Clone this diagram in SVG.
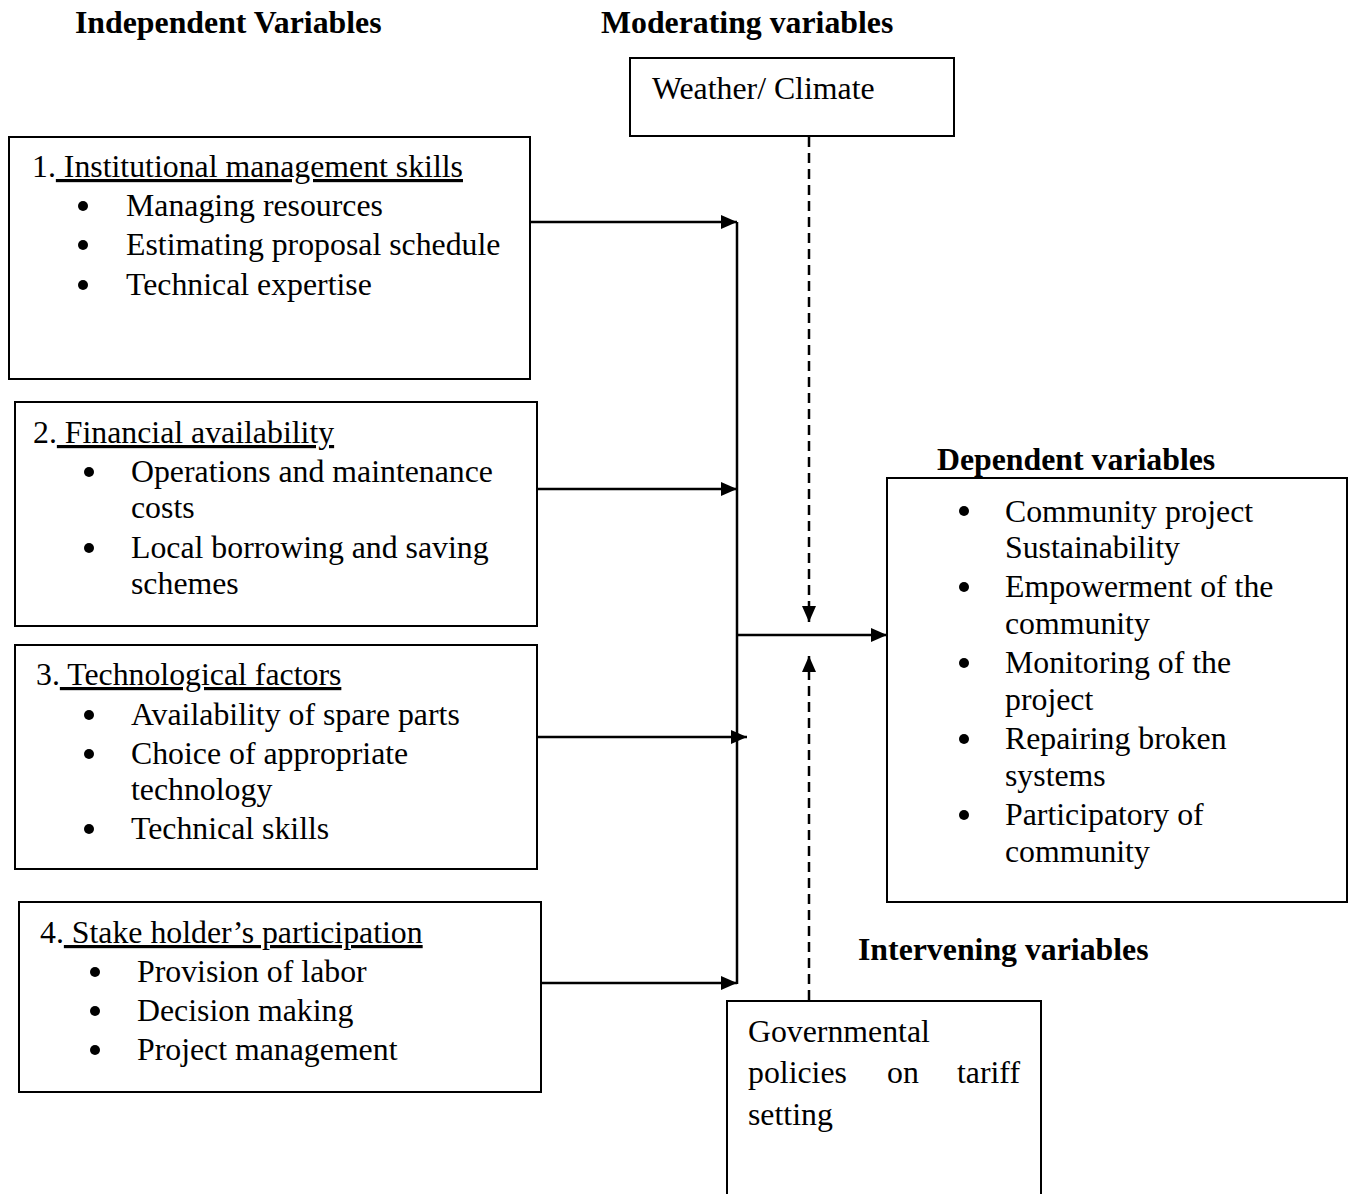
<svg xmlns="http://www.w3.org/2000/svg" width="1351" height="1194" viewBox="0 0 1351 1194">
<style>
text{font-family:"Liberation Serif","Times New Roman",serif;font-size:31.8px;fill:#000}
.h{font-weight:bold}
.box{fill:#fff;stroke:#000;stroke-width:2}
.c{stroke:#000;stroke-width:2.5;fill:none}
.d{stroke:#000;stroke-width:2.5;fill:none;stroke-dasharray:10 6}
.u{text-decoration:underline}
</style>
<defs>
<marker id="ah" markerUnits="userSpaceOnUse" markerWidth="17" markerHeight="15" refX="16" refY="7" orient="auto">
<path d="M0,0 L16,7 L0,14 z" fill="#000"/>
</marker>
</defs>
<rect width="1351" height="1194" fill="#fff"/>
<text class="h" x="75" y="33">Independent Variables</text>
<text class="h" x="601" y="33">Moderating variables</text>
<text class="h" x="937" y="470">Dependent variables</text>
<text class="h" x="858" y="960">Intervening variables</text>

<g id="weather">
<rect class="box" x="630" y="58" width="324" height="78"/>
<text x="652" y="99">Weather/ Climate</text>
</g>

<g id="box1">
<rect class="box" x="9" y="137" width="521" height="242"/>
<text x="32" y="177">1.<tspan class="u"> Institutional management skills</tspan></text>
<g fill="#000"><circle cx="83" cy="206" r="5"/><circle cx="83" cy="245" r="5"/><circle cx="83" cy="285" r="5"/></g>
<text x="126" y="216">Managing resources</text>
<text x="126" y="255">Estimating proposal schedule</text>
<text x="126" y="295">Technical expertise</text>
</g>

<g id="box2">
<rect class="box" x="15" y="402" width="522" height="224"/>
<text x="33" y="443">2.<tspan class="u"> Financial availability</tspan></text>
<g fill="#000"><circle cx="89" cy="472" r="5"/><circle cx="89" cy="548" r="5"/></g>
<text x="131" y="482">Operations and maintenance</text>
<text x="131" y="518">costs</text>
<text x="131" y="558">Local borrowing and saving</text>
<text x="131" y="594">schemes</text>
</g>

<g id="box3">
<rect class="box" x="15" y="645" width="522" height="224"/>
<text x="36" y="685">3.<tspan class="u"> Technological factors</tspan></text>
<g fill="#000"><circle cx="89" cy="715" r="5"/><circle cx="89" cy="754" r="5"/><circle cx="89" cy="829" r="5"/></g>
<text x="131" y="725">Availability of spare parts</text>
<text x="131" y="764">Choice of appropriate</text>
<text x="131" y="800">technology</text>
<text x="131" y="839">Technical skills</text>
</g>

<g id="box4">
<rect class="box" x="19" y="902" width="522" height="190"/>
<text x="40" y="943">4.<tspan class="u"> Stake holder’s participation</tspan></text>
<g fill="#000"><circle cx="95" cy="972" r="5"/><circle cx="95" cy="1011" r="5"/><circle cx="95" cy="1050" r="5"/></g>
<text x="137" y="982">Provision of labor</text>
<text x="137" y="1021">Decision making</text>
<text x="137" y="1060">Project management</text>
</g>

<g id="dependent">
<rect class="box" x="887" y="478" width="460" height="424"/>
<g fill="#000"><circle cx="964" cy="511" r="5"/><circle cx="964" cy="587" r="5"/><circle cx="964" cy="663" r="5"/><circle cx="964" cy="739" r="5"/><circle cx="964" cy="815" r="5"/></g>
<text x="1005" y="522">Community project</text>
<text x="1005" y="558">Sustainability</text>
<text x="1005" y="597">Empowerment of the</text>
<text x="1005" y="634">community</text>
<text x="1005" y="673">Monitoring of the</text>
<text x="1005" y="710">project</text>
<text x="1005" y="749">Repairing broken</text>
<text x="1005" y="786">systems</text>
<text x="1005" y="825">Participatory of</text>
<text x="1005" y="862">community</text>
</g>

<g id="government">
<rect class="box" x="727" y="1001" width="314" height="220"/>
<text x="748" y="1042">Governmental</text>
<text x="748" y="1083">policies</text>
<text x="887" y="1083">on</text>
<text x="957" y="1083">tariff</text>
<text x="748" y="1125">setting</text>
</g>

<g id="connectors">
<line class="c" x1="530" y1="222" x2="737" y2="222" marker-end="url(#ah)"/>
<line class="c" x1="737" y1="222" x2="737" y2="984"/>
<line class="c" x1="537" y1="489" x2="737" y2="489" marker-end="url(#ah)"/>
<line class="c" x1="537" y1="737" x2="747" y2="737" marker-end="url(#ah)"/>
<line class="c" x1="541" y1="983" x2="737" y2="983" marker-end="url(#ah)"/>
<line class="c" x1="737" y1="635" x2="887" y2="635" marker-end="url(#ah)"/>
<line class="d" x1="809" y1="137" x2="809" y2="622" marker-end="url(#ah)"/>
<line class="d" x1="809" y1="1000" x2="809" y2="656" marker-end="url(#ah)"/>
</g>
</svg>
